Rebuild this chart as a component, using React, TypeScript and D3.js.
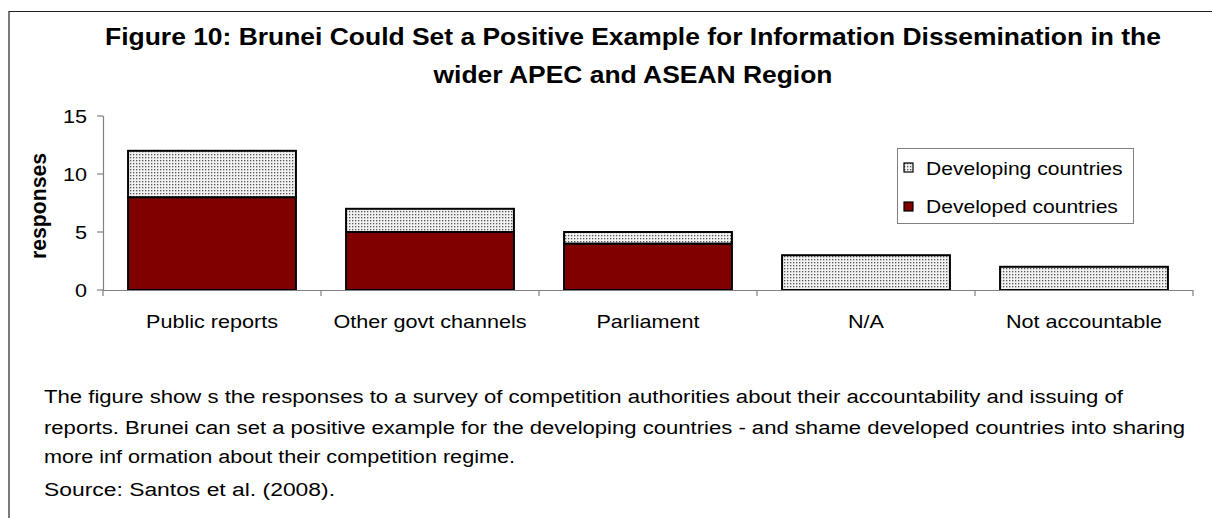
import React from "react";
import * as d3 from "d3";

const categories = ["Public reports", "Other govt channels", "Parliament", "N/A", "Not accountable"];
const developed = [8, 5, 4, 0, 0];
const developing = [4, 2, 1, 3, 2];
const yTicks = [0, 5, 10, 15];
const titleLines = [
  "Figure 10: Brunei Could Set a Positive Example for Information Dissemination in the",
  "wider APEC and ASEAN Region",
];
const captionLines = [
  "The figure show s the responses to a survey of competition authorities about their accountability and issuing of",
  "reports. Brunei can set a positive example for the developing countries - and shame developed countries into sharing",
  "more inf ormation about their competition regime.",
  "Source: Santos et al. (2008).",
];
const captionWidths = [1079, 1141, 471, 291];

const FONT = "'Liberation Sans', Arial, sans-serif";
const RED = "#800000";

function SText(props: {
  x: number; y: number; sx?: number; size: number; bold?: boolean; anchor?: string; children: React.ReactNode;
}) {
  const { x, y, sx = 1.2, size, bold, anchor = "start", children } = props;
  return (
    <text
      transform={`translate(${x},${y}) scale(${sx},1)`}
      fontSize={size}
      fontWeight={bold ? "bold" : "normal"}
      textAnchor={anchor}
      fill="#000"
    >
      {children}
    </text>
  );
}

export default function App() {
  const W = 1212, H = 518;
  const left = 103, right = 1193, top = 116, bottom = 290;
  const x = d3.scaleBand<string>().domain(categories).range([left, right]).paddingInner(0.23).paddingOuter(0.115);
  const y = d3.scaleLinear().domain([0, 15]).range([bottom, top]);
  const stackData = categories.map((c, i) => ({ c, developed: developed[i], developing: developing[i] }));
  const series = d3.stack<any>().keys(["developed", "developing"])(stackData);
  const catEdges = categories.map((_, i) => left + (i * (right - left)) / categories.length).concat([right]);

  return (
    <svg width={W} height={H} style={{ position: "absolute", left: 0, top: 0 }} fontFamily={FONT}>
      <defs>
        <pattern id="dots" width="3" height="3" patternUnits="userSpaceOnUse">
          <rect width="3" height="3" fill="#f2f2f2" />
          <rect x="1" y="1" width="1.3" height="1.3" fill="#555" />
        </pattern>
      </defs>
      <rect x={0} y={0} width={W} height={H} fill="#fff" />
      <line x1={9} y1={11.5} x2={W} y2={11.5} stroke="#222" strokeWidth={1.2} />
      <line x1={9} y1={11} x2={9} y2={H} stroke="#222" strokeWidth={1.2} />
      {titleLines.map((t, i) => (
        <SText key={i} x={633} y={45 + i * 38} size={23} bold sx={1.15} anchor="middle">
          {t}
        </SText>
      ))}
      <text
        transform={`translate(46,206) rotate(-90) scale(1,1.2)`}
        textAnchor="middle"
        fontSize={18}
        fontWeight="bold"
        textLength={106}
        lengthAdjust="spacingAndGlyphs"
      >
        responses
      </text>
      {/* y axis */}
      <line x1={left + 0.5} y1={top} x2={left + 0.5} y2={bottom} stroke="#808080" strokeWidth={1.2} />
      {yTicks.map((t) => (
        <g key={t}>
          <line x1={left - 6} x2={left} y1={y(t)} y2={y(t)} stroke="#808080" strokeWidth={1.2} />
          <SText x={87} y={y(t) + 6.5} size={18} anchor="end">
            {t}
          </SText>
        </g>
      ))}
      {/* bars */}
      {series.map((s) =>
        s.map((d, i) => {
          if (d[1] - d[0] <= 0) return null;
          const isDev = s.key === "developed";
          return (
            <rect
              key={s.key + i}
              x={x(categories[i])}
              y={y(d[1])}
              width={x.bandwidth()}
              height={y(d[0]) - y(d[1])}
              fill={isDev ? RED : "url(#dots)"}
              stroke="#000"
              strokeWidth={2}
            />
          );
        })
      )}
      {/* x axis */}
      <line x1={left} x2={right} y1={bottom + 0.5} y2={bottom + 0.5} stroke="#808080" strokeWidth={1.2} />
      {catEdges.map((e, i) => (
        <line key={i} x1={e} x2={e} y1={bottom} y2={bottom + 6} stroke="#808080" strokeWidth={1.2} />
      ))}
      {categories.map((c) => (
        <SText key={c} x={(x(c) as number) + x.bandwidth() / 2} y={328} size={18} anchor="middle">
          {c}
        </SText>
      ))}
      {/* legend */}
      <rect x={897.5} y={148.5} width={236} height={75} fill="#fff" stroke="#808080" strokeWidth={1} />
      <rect x={904} y={163} width={9} height={9} fill="url(#dots)" stroke="#000" strokeWidth={1.2} />
      <SText x={926} y={175} size={18} sx={1.17}>Developing countries</SText>
      <rect x={904} y={202} width={9} height={9} fill={RED} stroke="#000" strokeWidth={1.2} />
      <SText x={926} y={213} size={18} sx={1.17}>Developed countries</SText>
      {/* caption */}
      {captionLines.map((t, i) => (
        <text
          key={i}
          x={44}
          y={[403, 434, 463, 496][i]}
          fontSize={18}
          textLength={captionWidths[i]}
          lengthAdjust="spacingAndGlyphs"
        >
          {t}
        </text>
      ))}
    </svg>
  );
}
